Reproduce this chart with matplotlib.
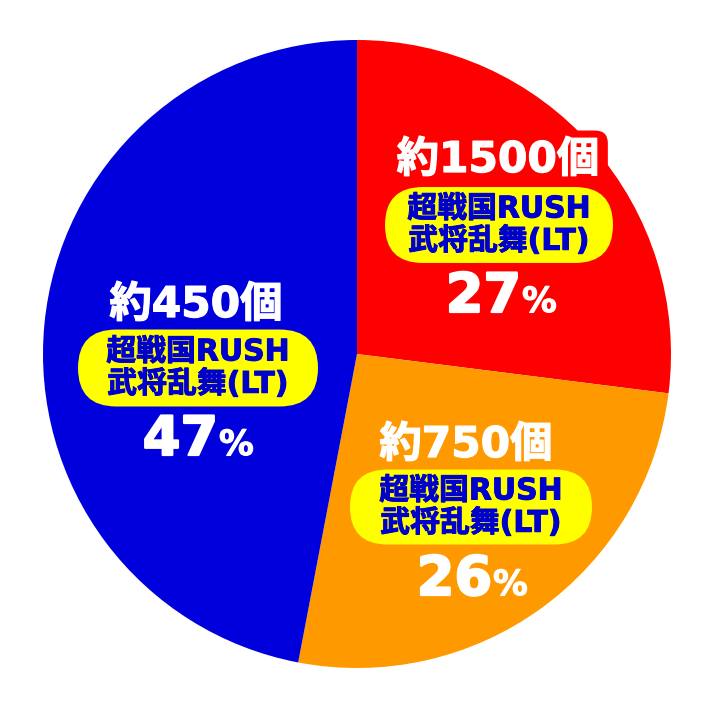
import matplotlib
matplotlib.use("Agg")
import matplotlib.pyplot as plt
from matplotlib.patches import FancyBboxPatch
import matplotlib.patheffects as pe

# ---- data ----
shares = [27, 26, 47]
counts = ["約1500個", "約750個", "約450個"]
box_line1 = ["超戦国RUSH", "超戦国RUSH", "超戦国RUSH"]
box_line2 = ["武将乱舞(LT)", "武将乱舞(LT)", "武将乱舞(LT)"]
pct_labels = ["27", "26", "47"]
colors = ["#FF0000", "#FF9900", "#0000DD"]

W, H = 712, 710
fig = plt.figure(figsize=(W / 100, H / 100), dpi=100)
ax = fig.add_axes([0, 0, 1, 1])

def Y(py):
    return H - py

cx, cy, R = 357, 354, 314
ax.pie(shares, colors=colors, startangle=90, counterclock=False,
       center=(cx, Y(cy)), radius=R, frame=True,
       wedgeprops=dict(linewidth=0))
ax.set_xlim(0, W)
ax.set_ylim(0, H)
ax.set_aspect("equal")
ax.axis("off")

FAM = ["DejaVu Sans", "Noto Sans CJK JP"]

def bold(color, lw=1.4):
    return [pe.withStroke(linewidth=lw, foreground=color)]

# layout per slice (pixel coords): count label, yellow box, percent
layout = [
    dict(cx=498, cb=172, bx=499, by=225, bw=228, bh=76, nr=521, pb=312),
    dict(cx=466, cb=457, bx=471, by=507, bw=242, bh=75, nr=492, pb=595),
    dict(cx=196, cb=317, bx=198, by=368, bw=240, bh=77, nr=218, pb=455),
]

for i, L in enumerate(layout):
    ax.text(L["cx"], Y(L["cb"]), counts[i], family=FAM, weight="bold",
            fontsize=30.5, color="white", ha="center", va="baseline", zorder=5,
            path_effects=bold("white", 0.9),
            bbox=dict(boxstyle="round,pad=0.2,rounding_size=0.3",
                      fc=colors[i], ec="none"))
    box = FancyBboxPatch((L["bx"] - L["bw"] / 2, Y(L["by"] + L["bh"] / 2)),
                         L["bw"], L["bh"],
                         boxstyle="round,pad=0,rounding_size=%f" % (L["bh"] / 2),
                         fc="#FFFF00", ec="none", zorder=6)
    ax.add_patch(box)
    ax.text(L["bx"], Y(L["by"] - 16), box_line1[i], family=FAM, weight="bold",
            fontsize=21.5, color="#0000CC", ha="center", va="center", zorder=7,
            path_effects=bold("#0000CC", 0.7))
    ax.text(L["bx"], Y(L["by"] + 16), box_line2[i], family=FAM, weight="bold",
            fontsize=21.5, color="#0000CC", ha="center", va="center", zorder=7,
            path_effects=bold("#0000CC", 0.7))
    ax.text(L["nr"], Y(L["pb"]), pct_labels[i], family=FAM,
            weight="bold", fontsize=39, color="white", ha="right",
            va="baseline", zorder=7, path_effects=bold("white", 1.6))
    ax.text(L["nr"] + 1, Y(L["pb"]), "%", family=FAM,
            weight="bold", fontsize=25, color="white", ha="left",
            va="baseline", zorder=7, path_effects=bold("white", 0.8))

fig.savefig("out.png", dpi=100)
